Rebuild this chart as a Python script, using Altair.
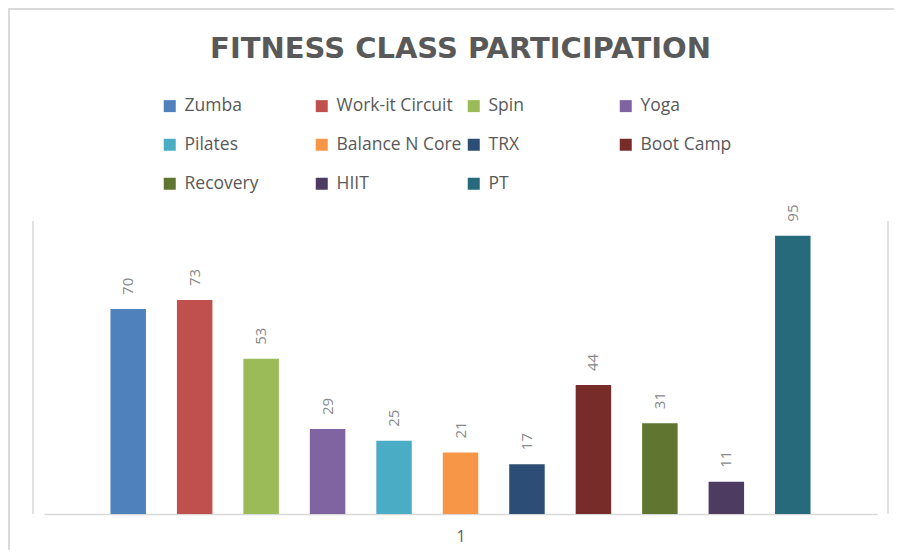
import altair as alt
import pandas as pd

classes = ["Zumba", "Work-it Circuit", "Spin", "Yoga", "Pilates", "Balance N Core",
           "TRX", "Boot Camp", "Recovery", "HIIT", "PT"]
values = [70, 73, 53, 29, 25, 21, 17, 44, 31, 11, 95]
colors = ["#4F81BD", "#C0504D", "#9BBB59", "#8064A2", "#4BACC6", "#F79646",
          "#2C4D75", "#772C2A", "#5F7530", "#4D3B62", "#276A7C"]
axis_label = "1"
title_text = "FITNESS CLASS PARTICIPATION"

df = pd.DataFrame({"cls": classes, "val": values})

W, H = 855, 293
PL, PT, PR, PB = 25, 213, 6, 36
FONT = "Open Sans"
GRID = "#d9d9d9"

base = alt.Chart(df)

bars = base.mark_bar().encode(
    x=alt.X("cls:N", sort=classes,
            scale=alt.Scale(paddingInner=0.466, paddingOuter=1.0, range=[11, 844]),
            axis=alt.Axis(title=axis_label, labels=False, ticks=False,
                          domainColor=GRID, domainWidth=1.5,
                          titleFont=FONT, titleFontSize=16, titleFontWeight="normal",
                          titleColor="#595959", titlePadding=14)),
    y=alt.Y("val:Q", scale=alt.Scale(domain=[0, 100], nice=False), axis=None),
    color=alt.Color("cls:N", sort=classes,
                    scale=alt.Scale(domain=classes, range=colors),
                    legend=alt.Legend(title=None, orient="none", legendX=128, legendY=-124,
                                      direction="horizontal",
                                      columns=4, gridAlign="all", columnPadding=3,
                                      rowPadding=20, symbolType="square", symbolSize=144,
                                      symbolStrokeWidth=0, labelFont=FONT, labelFontSize=17.5,
                                      labelColor="#595959", labelOffset=6, labelLimit=300)),
)

labels = base.mark_text(angle=270, align="left", baseline="middle", dx=14,
                        font=FONT, fontSize=15, color="#898989").encode(
    x=alt.X("cls:N", sort=classes),
    y=alt.Y("val:Q"),
    text=alt.Text("val:Q"),
)

one = alt.Chart(pd.DataFrame({"a": [0]}))
left_rule = one.mark_rule(color=GRID, strokeWidth=1.5).encode(
    x=alt.value(0), y=alt.value(0), y2=alt.value(H))
right_rule = one.mark_rule(color=GRID, strokeWidth=1.5).encode(
    x=alt.value(W), y=alt.value(0), y2=alt.value(H))
outer_left = one.mark_rule(color=GRID, strokeWidth=2).encode(
    x=alt.value(-PL + 1), y=alt.value(-PT), y2=alt.value(H + PB))
outer_top = one.mark_rule(color=GRID, strokeWidth=2).encode(
    x=alt.value(-PL), x2=alt.value(W + PR), y=alt.value(-PT + 1))

chart = alt.layer(bars, labels, left_rule, right_rule, outer_left, outer_top).properties(
    width=W, height=H,
    title=alt.TitleParams(title_text, font="DejaVu Sans", fontSize=29, fontWeight="bold",
                          color="#595959", anchor="middle", offset=0, dy=57),
    autosize=alt.AutoSizeParams(type="none"),
    padding={"left": PL, "top": PT, "right": PR, "bottom": PB},
).configure_view(stroke=None)

chart.save("out.html", embed_options={"renderer": "svg", "actions": False})
